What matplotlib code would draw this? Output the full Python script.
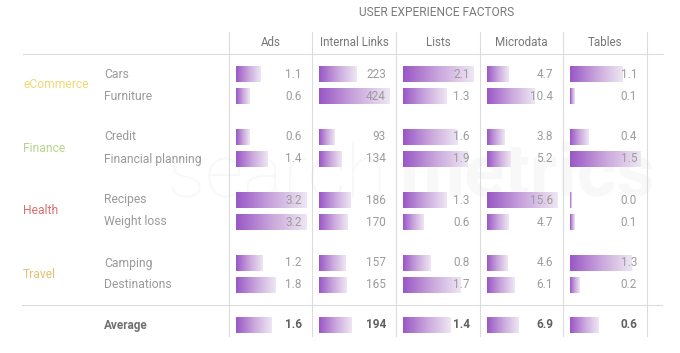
import matplotlib.pyplot as plt
import numpy as np
from matplotlib.colors import LinearSegmentedColormap

plt.rcParams['font.family'] = ['Roboto', 'DejaVu Sans']

################################################# Data
title = "USER EXPERIENCE FACTORS"
columns = ["Ads", "Internal Links", "Lists", "Microdata", "Tables"]
groups = ["eCommerce", "Finance", "Health", "Travel"]
group_colors = ["#f0d874", "#b8d48c", "#d8706c", "#e2c272"]
rows = ["Cars", "Furniture", "Credit", "Financial planning",
        "Recipes", "Weight loss", "Camping", "Destinations"]
ads = [1.1, 0.6, 0.6, 1.4, 3.2, 3.2, 1.2, 1.8]
links = [223, 424, 93, 134, 186, 170, 157, 165]
lists = [2.1, 1.3, 1.6, 1.9, 1.3, 0.6, 0.8, 1.7]
microdata = [4.7, 10.4, 3.8, 5.2, 15.6, 4.7, 4.6, 6.1]
tables = [1.1, 0.1, 0.4, 1.5, 0.0, 0.1, 1.3, 0.2]
average = [1.6, 194, 1.4, 6.9, 0.6]
formats = ["{:.1f}", "{:.0f}", "{:.1f}", "{:.1f}", "{:.1f}"]

################################################# Layout (pixels)
W, H = 680, 353
col_edges = [229, 312, 396, 480, 563, 647]
row_y = [74, 96, 137, 159, 200, 222, 263, 285]
avg_y = 325
bar_h = 16
bar_pad = 7
bar_max = 71

cmap = LinearSegmentedColormap.from_list("bar", ["#9a58c6", "#c9a6dc", "#eee6f3"])
grad = np.linspace(0, 1, 64).reshape(1, -1)

fig = plt.figure(figsize=(W / 100, H / 100), dpi=100)
ax = fig.add_axes([0, 0, 1, 1])
ax.set_xlim(0, W)
ax.set_ylim(H, 0)
ax.axis('off')

# watermark
ax.text(168, 176, "search", fontsize=54, color="#f8f8f8", fontweight='light',
        va='center', ha='left', zorder=0)
ax.text(400, 176, "metrics", fontsize=54, color="#f8f8f8", fontweight='bold',
        va='center', ha='left', zorder=0)

ax.text(437, 13, title, fontsize=8.6, color="#7a7a7a", ha='center', va='center')

# grid lines
for x in col_edges:
    ax.plot([x, x], [32, 336], color="#dcdcdc", lw=0.8, zorder=1)
ax.plot([23, 663], [54, 54], color="#dcdcdc", lw=0.8, zorder=1)
ax.plot([22, 662], [305, 305], color="#dcdcdc", lw=0.8, zorder=1)

for i, name in enumerate(columns):
    xc = (col_edges[i] + col_edges[i + 1]) / 2
    ax.text(xc, 42, name, fontsize=8.4, color="#777777", ha='center', va='center')

for g, (name, c) in enumerate(zip(groups, group_colors)):
    yc = (row_y[2 * g] + row_y[2 * g + 1]) / 2
    ax.text(23, yc, name, fontsize=8.7, color=c, ha='left', va='center')

for name, y in zip(rows, row_y):
    ax.text(104, y, name, fontsize=8.7, color="#9a9a9a", ha='left', va='center')
ax.text(104, avg_y, "Average", fontsize=8.5, color="#707070", fontweight='bold',
        ha='left', va='center')


def draw_bar(x0, y, w):
    if w <= 0:
        w = 1.5
    ax.imshow(grad, cmap=cmap, aspect='auto', interpolation='bilinear',
              extent=[x0, x0 + w, y + bar_h / 2, y - bar_h / 2], zorder=2)


series = [ads, links, lists, microdata, tables]
for i, vals in enumerate(series):
    vmax = max(vals)
    x0 = col_edges[i] + bar_pad
    xr = col_edges[i + 1] - 10
    for v, y in zip(vals, row_y):
        draw_bar(x0, y, bar_max * v / vmax)
        ax.text(xr, y, formats[i].format(v), fontsize=8.5, color="#9c9c9c",
                ha='right', va='center', zorder=3)
    draw_bar(x0, avg_y, bar_max * average[i] / vmax)
    ax.text(xr, avg_y, formats[i].format(average[i]), fontsize=8.5, color="#606060",
            fontweight='bold', ha='right', va='center', zorder=3)

ax.set_xlim(0, W)
ax.set_ylim(H, 0)
plt.savefig("out.png", dpi=100)
